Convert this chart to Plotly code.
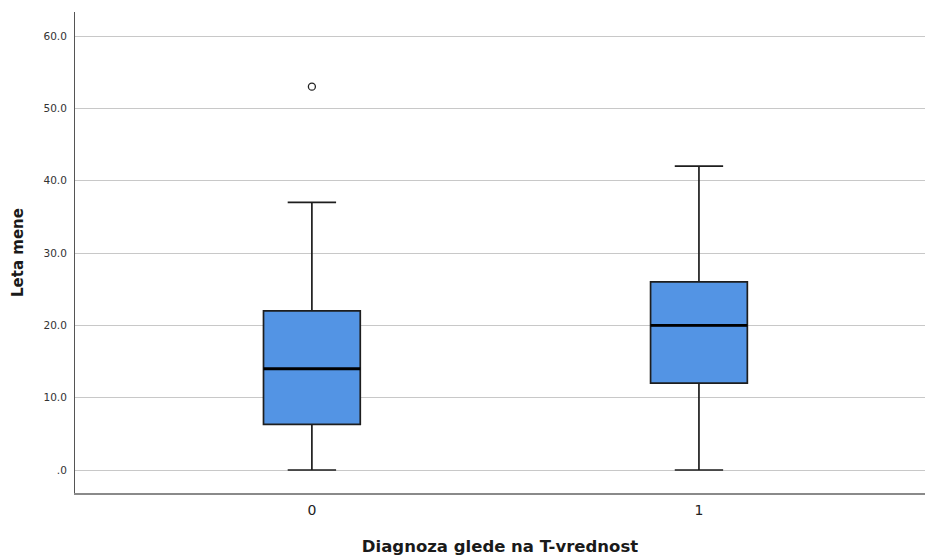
import plotly.graph_objects as go

categories = [0, 1]
q1 = [6.3, 12.0]
medians = [14.0, 20.0]
q3 = [22.0, 26.0]
lower = [0.0, 0.0]
upper = [37.0, 42.0]
outlier_x = [0]
outlier_y = [53.0]
ytick_vals = [0, 10, 20, 30, 40, 50, 60]
ytick_text = [".0", "10.0", "20.0", "30.0", "40.0", "50.0", "60.0"]

box_w = 0.25
fill = "#5394E4"

fig = go.Figure()
fig.add_trace(go.Box(
    x=categories, q1=q1, median=medians, q3=q3,
    lowerfence=lower, upperfence=upper,
    width=box_w, whiskerwidth=0.5,
    fillcolor=fill, line=dict(color="#1e1e1e", width=1.7),
    boxpoints=False, showlegend=False, hoverinfo="skip",
))
for c, m in zip(categories, medians):
    fig.add_trace(go.Scatter(
        x=[c - box_w / 2, c + box_w / 2], y=[m, m], mode="lines",
        line=dict(color="#000000", width=2.8), showlegend=False, hoverinfo="skip",
    ))
fig.add_trace(go.Scatter(
    x=outlier_x, y=outlier_y, mode="markers",
    marker=dict(symbol="circle-open", size=7, color="#222222", line=dict(width=1.3)),
    showlegend=False, hoverinfo="skip",
))

fig.update_layout(
    width=926, height=557,
    margin=dict(l=75, r=1, t=12, b=64),
    paper_bgcolor="white", plot_bgcolor="white",
    font=dict(family="DejaVu Sans", color="#1a1a1a"),
    xaxis=dict(
        range=[-0.612, 1.584], tickvals=categories, ticktext=[str(c) for c in categories],
        showgrid=False, zeroline=False, showline=True, linecolor="#8a8a8a", linewidth=2,
        ticks="", tickfont=dict(size=14, color="#222222"), ticklabelstandoff=3,
        title=dict(text="<b>Diagnoza glede na T-vrednost</b>", font=dict(size=16.5), standoff=24),
    ),
    yaxis=dict(
        range=[-3.18, 63.32], tickvals=ytick_vals, ticktext=ytick_text,
        showgrid=True, gridcolor="#c8c8c8", gridwidth=1, zeroline=False,
        showline=True, linecolor="#555555", linewidth=1,
        ticks="", tickfont=dict(size=10.5, color="#333333"), ticklabelstandoff=5,
        title=dict(text="<b>Leta mene</b>", font=dict(size=15), standoff=16),
    ),
)

fig.write_html("out.html")
